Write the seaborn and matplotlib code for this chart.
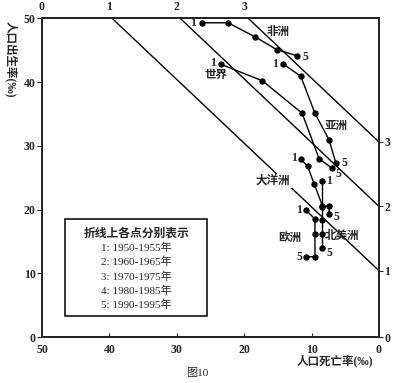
import matplotlib
matplotlib.use('Agg')
import matplotlib.pyplot as plt
import seaborn as sns
import numpy as np
import pandas as pd
from matplotlib.patches import Rectangle

# death rate (per mil) / birth rate (per mil), points 1..5
africa_death = [26.3, 22.4, 18.4, 15.2, 12.1]
africa_birth = [49.3, 49.3, 47.1, 45.1, 44.1]
world_death = [23.5, 17.3, 11.4, 8.9, 7.0]
world_birth = [42.8, 40.2, 35.1, 28.0, 26.5]
asia_death = [14.3, 11.6, 9.5, 7.4, 6.4]
asia_birth = [42.9, 40.9, 35.1, 30.9, 27.3]
oceania_death = [11.6, 10.6, 9.6, 8.4, 7.4, 7.4]
oceania_birth = [27.9, 26.8, 24.0, 20.6, 20.5, 19.3]
namerica_death = [8.4, 8.4, 8.4, 8.4, 8.4]
namerica_birth = [24.5, 20.4, 18.4, 16.1, 13.9]
europe_death = [10.8, 9.5, 9.5, 9.5, 10.8]
europe_birth = [19.9, 18.5, 16.2, 12.6, 12.6]

# natural growth rate lines (%), birth rate where they meet death = 0
growth_labels = ['1', '2', '3']
growth_intercepts = [10.4, 20.5, 30.6]

periods = ['1: 1950-1955年', '2: 1960-1965年', '3: 1970-1975年',
           '4: 1980-1985年', '5: 1990-1995年']

series = {
    '非洲': (africa_death, africa_birth),
    '世界': (world_death, world_birth),
    '亚洲': (asia_death, asia_birth),
    '大洋洲': (oceania_death, oceania_birth),
    '北美洲': (namerica_death, namerica_birth),
    '欧洲': (europe_death, europe_birth),
}
frames = []
for name, (d, b) in series.items():
    frames.append(pd.DataFrame({'region': name, 'order': range(len(d)), 'death': d, 'birth': b}))
df = pd.concat(frames, ignore_index=True)

sns.set_style('ticks')
plt.rcParams['font.family'] = ['Liberation Serif', 'Noto Sans CJK SC']
plt.rcParams['axes.linewidth'] = 1.3

fig = plt.figure(figsize=(4.01, 3.83), dpi=100)
ax = fig.add_axes([0.1047, 0.1201, 0.8404, 0.8321])

# growth rate diagonals
dd = np.array([0, 50])
for c in growth_intercepts:
    ax.plot(dd, dd + c, color='black', linewidth=1, zorder=1)

sns.lineplot(data=df, x='death', y='birth', units='region', estimator=None, sort=False,
             color='black', marker='o', markersize=3.8, markeredgecolor='black',
             linewidth=1, legend=False, ax=ax, zorder=3)

ax.set_xlim(50, 0)
ax.set_ylim(0, 50)
ax.set_xticks([50, 40, 30, 20, 10, 0])
ax.set_yticks([0, 10, 20, 30, 40, 50])
ax.set_xlabel('')
ax.set_ylabel('')
ax.tick_params(axis='x', direction='in', length=3, pad=5, labelsize=8.5)
ax.tick_params(axis='y', direction='out', length=3.5, pad=1, labelsize=8.5)
for lab in ax.get_xticklabels() + ax.get_yticklabels():
    lab.set_fontweight('bold')

# top axis: growth rate at birth = 50
axt = ax.twiny()
axt.set_xlim(50, 0)
axt.set_xticks([50, 40, 30, 20])
axt.set_xticklabels(['0', '1', '2', '3'], fontweight='bold')
axt.tick_params(axis='x', length=0, pad=4, labelsize=8.5)

# right axis: growth rate at death = 0
axr = ax.twinx()
axr.set_ylim(0, 50)
axr.set_yticks([0] + growth_intercepts)
axr.set_yticklabels(['0'] + growth_labels, fontweight='bold')
axr.tick_params(axis='y', direction='out', length=3, pad=1, labelsize=8.5)

# 1 / 5 labels at the ends of each polyline (offsets in points)
end_offsets = {
    '非洲': ((-4, 0, 'right'), (4, -1, 'left')),
    '世界': ((-3, 1, 'right'), (3, -4, 'left')),
    '亚洲': ((-3, 0, 'right'), (4, 0, 'left')),
    '大洋洲': ((-3, 1, 'right'), (3, -2, 'left')),
    '北美洲': ((3, 0, 'left'), (3, -3, 'left')),
    '欧洲': ((-3, 0, 'right'), (-3, 0, 'right')),
}
for name, (d, b) in series.items():
    (x1, y1, h1), (x5, y5, h5) = end_offsets[name]
    ax.annotate('1', (d[0], b[0]), xytext=(x1, y1), textcoords='offset points',
                ha=h1, va='center', fontsize=8.5, fontweight='bold', zorder=4)
    ax.annotate('5', (d[-1], b[-1]), xytext=(x5, y5), textcoords='offset points',
                ha=h5, va='center', fontsize=8.5, fontweight='bold', zorder=4)

# region names
name_pos = {'非洲': (15.0, 47.9), '世界': (24.2, 41.1), '亚洲': (6.3, 33.1),
            '大洋洲': (15.7, 24.5), '欧洲': (13.2, 15.6), '北美洲': (5.5, 15.8)}
for name, (x, y) in name_pos.items():
    t = ax.text(x, y, name, ha='center', va='center', fontsize=8.3, fontweight='bold', zorder=2.5)
    if name == '大洋洲':
        t.set_bbox(dict(facecolor='white', edgecolor='none', pad=0.8))

# period key box
ax.add_patch(Rectangle((0.068, 0.066), 0.422, 0.303, transform=ax.transAxes,
                       facecolor='white', edgecolor='black', linewidth=1.1, zorder=5))
ax.text(0.281, 0.325, '折线上各点分别表示', transform=ax.transAxes, ha='center', va='center',
        fontsize=8.5, fontweight='bold', zorder=6)
for i, p in enumerate(periods):
    ax.text(0.281, 0.279 - i * 0.0445, p, transform=ax.transAxes, ha='center', va='center',
            fontsize=8, zorder=6)

fig.text(11 / 401, 1 - 59 / 383, '人口出生率(‰)', rotation=-90, ha='center', va='center',
         fontsize=8.3, fontweight='bold')
fig.text(335 / 401, 1 - 361 / 383, '人口死亡率(‰)', ha='center', va='center',
         fontsize=8.3, fontweight='bold')
fig.text(197 / 401, 1 - 373 / 383, '图10', ha='center', va='center', fontsize=8)

plt.savefig('out.png', dpi=100)
